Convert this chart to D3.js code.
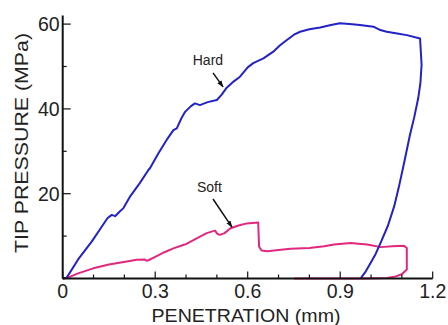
<!DOCTYPE html>
<html><head><meta charset="utf-8">
<script src="https://cdn.jsdelivr.net/npm/d3@7"></script>
<style>
body{margin:0;background:#fff;}
svg text{font-family:"Liberation Sans",Arial,sans-serif;fill:#222;}
</style></head>
<body><svg id="c" width="448" height="325"></svg>
<script>
const hardX = [0.0,0.013,0.05,0.094,0.12,0.145,0.159,0.170,0.185,0.197,0.22,0.25,0.278,0.283,0.31,0.34,0.359,0.370,0.385,0.397,0.415,0.429,0.445,0.47,0.50,0.515,0.532,0.555,0.575,0.60,0.618,0.651,0.683,0.705,0.726,0.750,0.770,0.800,0.835,0.870,0.899,0.930,0.964,1.008,1.030,1.051,1.085,1.116,1.159,1.164,1.160,1.153,1.140,1.126,1.107,1.090,1.075,1.055,1.031,1.015,0.999,0.983,0.967];
const hardY = [0,0.2,4.5,8.7,11.5,14.2,15.0,14.7,15.8,16.6,19.5,22.5,25.6,26.0,29.5,33.0,35.0,35.4,37.8,39.3,40.6,41.3,40.9,41.6,42.1,43.3,45.0,46.5,47.6,49.8,50.8,51.9,53.5,55.0,56.2,57.5,58.2,58.8,59.2,59.8,60.2,60.0,59.8,59.4,58.6,58.2,57.8,57.4,56.6,50.4,46.0,42.5,38.0,33.8,27.2,21.5,17.0,12.5,8.4,5.8,3.7,1.7,0.1];
const softX = [0,0.013,0.05,0.099,0.15,0.208,0.240,0.267,0.272,0.278,0.30,0.33,0.359,0.391,0.40,0.43,0.467,0.494,0.502,0.510,0.525,0.543,0.57,0.597,0.634,0.637,0.645,0.664,0.70,0.739,0.80,0.848,0.88,0.934,0.96,0.988,1.031,1.07,1.107,1.116,1.116,1.10,1.080,1.053,0.977,0.75];
const softY = [0,0.1,1.2,2.4,3.3,4.0,4.4,4.5,4.2,4.3,5.1,6.2,7.1,7.9,8.1,9.3,10.7,11.3,10.5,10.3,10.7,11.8,12.5,13.0,13.2,7.5,6.6,6.4,6.7,7.0,7.2,7.6,8.0,8.4,8.2,8.0,7.4,7.6,7.7,7.2,2.1,1.0,0.5,0.1,0,0];
const xMajor = [0, 0.3, 0.6, 0.9, 1.2];
const xMinor = [0.1, 0.2, 0.4, 0.5, 0.7, 0.8, 1.0, 1.1];
const yMajor = [20, 40, 60];
const yMinor = [10, 30, 50];
const xLabels = ["0", "0.3", "0.6", "0.9", "1.2"];
const yLabels = ["20", "40", "60"];
const notes = [
  {text: "Hard", tx: 0.471, ty: 50.4, x1: 0.4875, y1: 48.5, x2: 0.52, y2: 45.2},
  {text: "Soft", tx: 0.476, ty: 20.4, x1: 0.4875, y1: 18.75, x2: 0.549, y2: 12.1}
];

const svg = d3.select("#c");
const x = d3.scaleLinear().domain([0, 1.2]).range([62.7, 432.7]);
const y = d3.scaleLinear().domain([0, 60]).range([278.5, 24.1]);

svg.append("defs").append("marker").attr("id","ah").attr("viewBox","0 0 10 10")
  .attr("refX",9).attr("refY",5).attr("markerWidth",7).attr("markerHeight",7)
  .attr("markerUnits","userSpaceOnUse").attr("orient","auto")
  .append("path").attr("d","M0,1.5L10,5L0,8.5Z").attr("fill","#111");

const line = d3.line().x(d => x(d[0])).y(d => y(d[1]));
const hard = hardX.map((v,i)=>[v,hardY[i]]);
const soft = softX.map((v,i)=>[v,softY[i]]);
svg.append("path").datum(soft).attr("d", line).attr("fill","none")
  .attr("stroke","#e2287e").attr("stroke-width",2).attr("stroke-linejoin","round");
svg.append("path").datum(hard).attr("d", line).attr("fill","none")
  .attr("stroke","#2222c8").attr("stroke-width",2).attr("stroke-linejoin","round");

// axes
const ax = svg.append("g").attr("stroke","#111");
ax.append("line").attr("x1", x(0)).attr("x2", x(1.2)).attr("y1", y(0)).attr("y2", y(0)).attr("stroke-width",2);
ax.append("line").attr("x1", x(0)).attr("x2", x(0)).attr("y1", y(0)).attr("y2", y(62)).attr("stroke-width",2);
ax.selectAll(".xM").data(xMajor).join("line").attr("x1",d=>x(d)).attr("x2",d=>x(d))
  .attr("y1",y(0)).attr("y2",y(0)-7).attr("stroke-width",1.2);
ax.selectAll(".xm").data(xMinor).join("line").attr("x1",d=>x(d)).attr("x2",d=>x(d))
  .attr("y1",y(0)).attr("y2",y(0)-4).attr("stroke-width",1.2);
ax.selectAll(".yM").data(yMajor).join("line").attr("y1",d=>y(d)).attr("y2",d=>y(d))
  .attr("x1",x(0)).attr("x2",x(0)+8).attr("stroke-width",1.2);
ax.selectAll(".ym").data(yMinor).join("line").attr("y1",d=>y(d)).attr("y2",d=>y(d))
  .attr("x1",x(0)).attr("x2",x(0)+4).attr("stroke-width",1.2);

svg.selectAll(".xl").data(xMajor).join("text").attr("x",d=>x(d)).attr("y",y(0)+19.5)
  .attr("text-anchor","middle").attr("font-size",19.5).text((d,i)=>xLabels[i]);
svg.selectAll(".yl").data(yMajor).join("text").attr("x",x(0)-3).attr("y",d=>y(d)+7)
  .attr("text-anchor","end").attr("font-size",19.5).text((d,i)=>yLabels[i]);

svg.append("text").attr("x",246).attr("y",322).attr("text-anchor","middle")
  .attr("font-size",17.5).attr("textLength",189).attr("lengthAdjust","spacingAndGlyphs")
  .text("PENETRATION (mm)");
svg.append("text").attr("transform","translate(28,143) rotate(-90)").attr("text-anchor","middle")
  .attr("font-size",18).attr("textLength",220).attr("lengthAdjust","spacingAndGlyphs")
  .text("TIP PRESSURE (MPa)");

svg.selectAll(".nt").data(notes).join("text").attr("x",d=>x(d.tx)).attr("y",d=>y(d.ty))
  .attr("text-anchor","middle").attr("font-size",14).text(d=>d.text);
svg.selectAll(".na").data(notes).join("line").attr("x1",d=>x(d.x1)).attr("y1",d=>y(d.y1))
  .attr("x2",d=>x(d.x2)).attr("y2",d=>y(d.y2)).attr("stroke","#111").attr("stroke-width",1.5)
  .attr("marker-end","url(#ah)");
</script></body></html>
